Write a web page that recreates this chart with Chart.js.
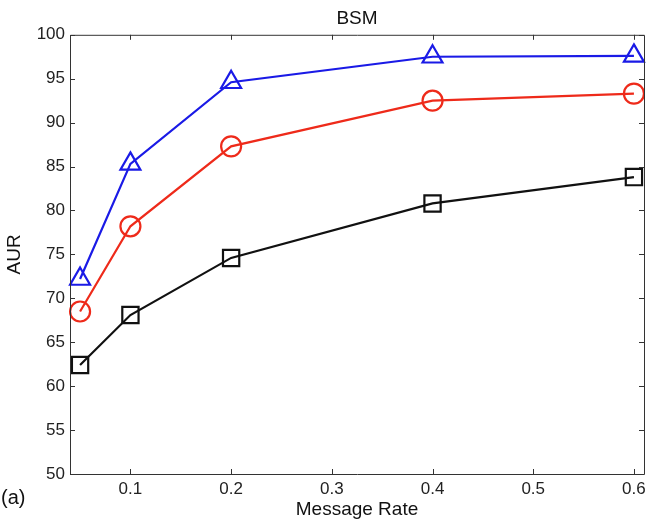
<!DOCTYPE html>
<html>
<head>
<meta charset="utf-8">
<script src="https://cdn.jsdelivr.net/npm/chart.js@4"></script>
<style>
  html, body { margin: 0; padding: 0; background: #fff; }
  #wrap { width: 647px; height: 525px; position: relative; }
</style>
</head>
<body>
<div id="wrap"><canvas id="c"></canvas></div>
<script>
const rates = [0.05, 0.1, 0.2, 0.4, 0.6];
const blueVals = [72.2, 85.3, 94.6, 97.5, 97.6];
const redVals = [68.5, 78.2, 87.3, 92.5, 93.3];
const blackVals = [62.4, 68.1, 74.6, 80.8, 83.8];
const xTicks = [0.1, 0.2, 0.3, 0.4, 0.5, 0.6];
const xTickLabels = ['0.1', '0.2', '0.3', '0.4', '0.5', '0.6'];
const yTicks = [50, 55, 60, 65, 70, 75, 80, 85, 90, 95, 100];

const FONT = "'Liberation Sans', Arial, Helvetica, sans-serif";
const toPts = (ys) => rates.map((x, i) => ({ x, y: ys[i] }));

// box around the axes, inward ticks on all four sides, x tick labels
const matlabBox = {
  id: 'matlabBox',
  afterDraw(chart) {
    const { ctx, chartArea: a, scales } = chart;
    const len = 5;
    ctx.save();
    ctx.strokeStyle = '#333';
    ctx.lineWidth = 1;
    ctx.beginPath();
    ctx.rect(a.left + 0.5, a.top + 0.5, a.right - a.left, a.bottom - a.top);
    xTicks.forEach(v => {
      const px = Math.round(scales.x.getPixelForValue(v)) + 0.5;
      ctx.moveTo(px, a.bottom); ctx.lineTo(px, a.bottom - len);
      ctx.moveTo(px, a.top); ctx.lineTo(px, a.top + len);
    });
    yTicks.forEach(v => {
      const py = Math.round(scales.y.getPixelForValue(v)) + 0.5;
      ctx.moveTo(a.left, py); ctx.lineTo(a.left + len, py);
      ctx.moveTo(a.right, py); ctx.lineTo(a.right - len, py);
    });
    ctx.stroke();

    ctx.fillStyle = '#222';
    ctx.font = '17px ' + FONT;
    ctx.textAlign = 'center';
    ctx.textBaseline = 'middle';
    xTicks.forEach((v, i) => {
      ctx.fillText(xTickLabels[i], scales.x.getPixelForValue(v), a.bottom + 15);
    });

    ctx.fillStyle = '#111';
    ctx.font = '20px ' + FONT;
    ctx.textAlign = 'left';
    ctx.fillText('(a)', 1, 498);
    ctx.restore();
  }
};

const mk = (label, ys, color, style, r) => ({
  label,
  data: toPts(ys),
  borderColor: color,
  borderWidth: 2.2,
  pointStyle: style,
  pointRadius: r,
  pointHoverRadius: r,
  pointBorderWidth: 2.2,
  pointBorderColor: color,
  pointBackgroundColor: 'rgba(0,0,0,0)',
  tension: 0,
  clip: false
});

new Chart(document.getElementById('c'), {
  type: 'line',
  data: {
    datasets: [
      mk('blue', blueVals, '#1a1ae6', 'triangle', 11.5),
      mk('red', redVals, '#ee2a1a', 'circle', 10),
      mk('black', blackVals, '#111', 'rect', 11.5)
    ]
  },
  options: {
    responsive: true,
    maintainAspectRatio: false,
    animation: false,
    layout: { autoPadding: false, padding: { left: 0, right: 3, top: 0, bottom: 0 } },
    plugins: {
      legend: { display: false },
      tooltip: { enabled: false },
      title: {
        display: true, text: 'BSM', color: '#111', fullSize: false,
        font: { family: FONT, size: 19, weight: 'normal' },
        padding: { top: 7, bottom: 5 }
      }
    },
    scales: {
      x: {
        type: 'linear', min: 0.04, max: 0.61,
        afterBuildTicks: s => { s.ticks = xTicks.map(v => ({ value: v })); },
        afterFit: s => { s.height = 51; },
        grid: { display: false, drawTicks: false },
        border: { display: false },
        ticks: { display: false },
        title: { display: true, text: 'Message Rate', color: '#111',
          font: { family: FONT, size: 19 }, padding: { top: 0, bottom: 4 } }
      },
      y: {
        min: 50, max: 100,
        afterBuildTicks: s => { s.ticks = yTicks.map(v => ({ value: v })); },
        afterFit: s => { s.width = 70; },
        grid: { display: false, drawTicks: false },
        border: { display: false },
        ticks: { color: '#222', padding: 5, font: { family: FONT, size: 17 } },
        title: { display: true, text: 'AUR', color: '#111',
          font: { family: FONT, size: 19 }, padding: { top: 3, bottom: 0 } }
      }
    }
  },
  plugins: [matlabBox]
});
</script>
</body>
</html>
